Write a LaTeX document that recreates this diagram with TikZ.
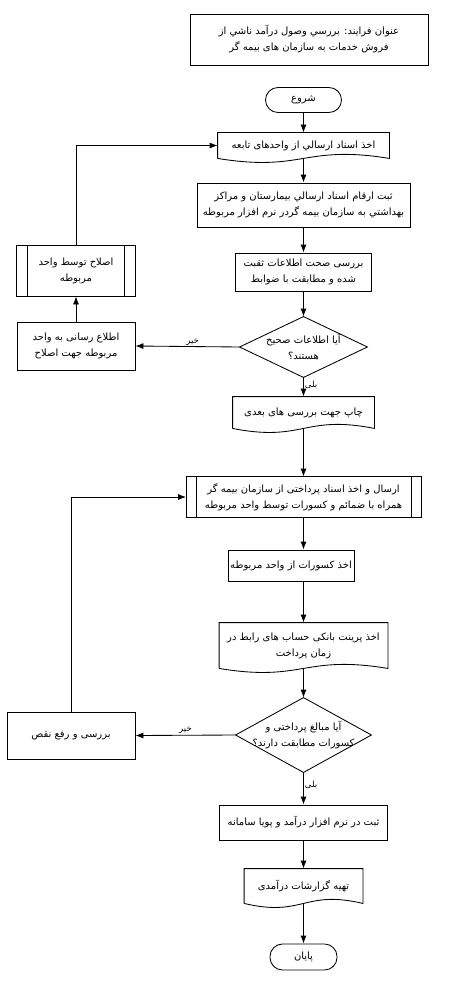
\documentclass[tikz,border=0pt]{standalone}
\usepackage{fontspec}
\newfontfamily\arabicfont[Script=Arabic]{DejaVu Sans}
\TeXXeTstate=1
\usetikzlibrary{arrows.meta,calc}
\newcommand{\rl}[1]{\beginR #1\endR}
\newcommand{\docout}[1]{\draw (#1.south west) -- (#1.north west) -- (#1.north east) -- (#1.south east) .. controls ($(#1.south)+(0,-14)$) and ($(#1.south)+(0,14)$) .. (#1.south west);}
\newcommand{\subout}[2]{\draw (#1.north west) rectangle (#1.south east);
  \draw ($(#1.north west)+(#2,0)$) -- ($(#1.south west)+(#2,0)$);
  \draw ($(#1.north east)+(-#2,0)$) -- ($(#1.south east)+(-#2,0)$);}
\newcommand{\diaout}[1]{\draw (#1.north) -- (#1.east) -- (#1.south) -- (#1.west) -- cycle;}
\begin{document}
\begin{tikzpicture}[x=1pt,y=-1pt,line width=0.85pt,
  every node/.style={font=\arabicfont\fontsize{10}{16}\selectfont,align=center,inner sep=0pt},
  box/.style={draw,rectangle},
  plain/.style={rectangle},
  term/.style={draw,rectangle,rounded corners=12.5pt},
  arr/.style={-{Latex[length=8pt,width=6pt]}},
  lbl/.style={font=\arabicfont\fontsize{8.5}{10}\selectfont}]
\useasboundingbox (0,0) rectangle (466,995);
% title
\node[box,minimum width=238,minimum height=51] (title) at (309,39.5) {\rl{عنوان فرایند: بررسي وصول درآمد ناشي از}\\\rl{فروش خدمات به سازمان های بیمه گر}};
% main flow
\node[term,minimum width=76,minimum height=25] (start) at (303.5,100) {\rl{شروع}};
\node[plain,minimum width=171,minimum height=25] (b1) at (303.5,145.5) {\rl{اخذ اسناد ارسالي از واحدهای تابعه}};
\docout{b1}
\node[box,minimum width=213,minimum height=44] (b2) at (303.5,205) {\rl{ثبت ارقام اسناد ارسالي بيمارستان و مراكز}\\\rl{بهداشتي به سازمان بيمه گردر نرم افزار مربوطه}};
\node[box,minimum width=136,minimum height=38] (b3) at (303.5,272) {\rl{بررسی صحت اطلاعات ثقبت}\\\rl{شده و مطابقت با ضوابط}};
\node[plain,minimum width=127,minimum height=60] (d1) at (303.5,347) {\rl{آيا اطلاعات صحيح}\\\rl{هستند؟}};
\diaout{d1}
\node[plain,minimum width=141,minimum height=31] (p1) at (303.5,412.5) {\rl{چاپ جهت بررسی های بعدی}};
\docout{p1}
\node[plain,minimum width=234,minimum height=40] (s2) at (303.5,497) {\rl{ارسال و اخذ اسناد پرداختی از سازمان بیمه گر}\\\rl{همراه با ضمائم و کسورات توسط واحد مربوطه}};
\subout{s2}{10}
\node[box,minimum width=126,minimum height=31] (b5) at (291,565.5) {\rl{اخذ کسورات از واحد مربوطه}};
\node[plain,minimum width=168,minimum height=45] (p2) at (303.5,645.5) {\rl{اخذ پرینت بانکی حساب های رابط در}\\\rl{زمان پرداخت}};
\docout{p2}
\node[plain,minimum width=135,minimum height=74] (d2) at (303.5,735) {\rl{آیا مبالغ پرداختی و}\\\rl{کسورات مطابقت دارند؟}};
\diaout{d2}
\node[box,minimum width=168,minimum height=35] (b6) at (303.5,822.5) {\rl{ثبت در نرم افزار درآمد و پویا سامانه}};
\node[plain,minimum width=118,minimum height=34] (p3) at (303.5,886) {\rl{تهیه گزارشات درآمدی}};
\docout{p3}
\node[term,minimum width=67,minimum height=26] (end) at (303.5,957) {\rl{پایان}};
% left side
\node[plain,minimum width=118,minimum height=50] (l1) at (76,271) {\rl{اصلاح توسط واحد}\\\rl{مربوطه}};
\subout{l1}{11}
\node[box,minimum width=118,minimum height=48] (l2) at (76,346) {\rl{اطلاع رسانی به واحد}\\\rl{مربوطه جهت اصلاح}};
\node[box,minimum width=128,minimum height=47] (l3) at (71,735.5) {\rl{بررسی و رفع نقص}};
% connectors
\draw[arr] (start) -- (b1);
\draw[arr] (b1) -- (b2);
\draw[arr] (b2) -- (b3);
\draw[arr] (b3) -- (d1);
\draw[arr] (d1) -- node[lbl,right=1pt,pos=0.4]{\rl{بلی}} (p1);
\draw[arr] (p1) -- (s2);
\draw[arr] (s2.south) -- (s2.south |- b5.north);
\draw[arr] (s2.south |- b5.south) -- (p2.north);
\draw[arr] (p2) -- (d2);
\draw[arr] (d2) -- node[lbl,right=1pt,pos=0.4]{\rl{بلی}} (b6);
\draw[arr] (b6) -- (p3);
\draw[arr] (p3) -- (end);
\draw[arr] (d1.west) -- node[lbl,above=1pt,pos=0.45]{\rl{خیر}} (l2.east);
\draw[arr] (l2) -- (l1);
\draw[arr] (l1.north) |- (b1.west);
\draw[arr] (d2.west) -- node[lbl,above=1pt,pos=0.5]{\rl{خیر}} (l3.east);
\draw[arr] (l3.north) |- (s2.west);
\end{tikzpicture}
\end{document}
